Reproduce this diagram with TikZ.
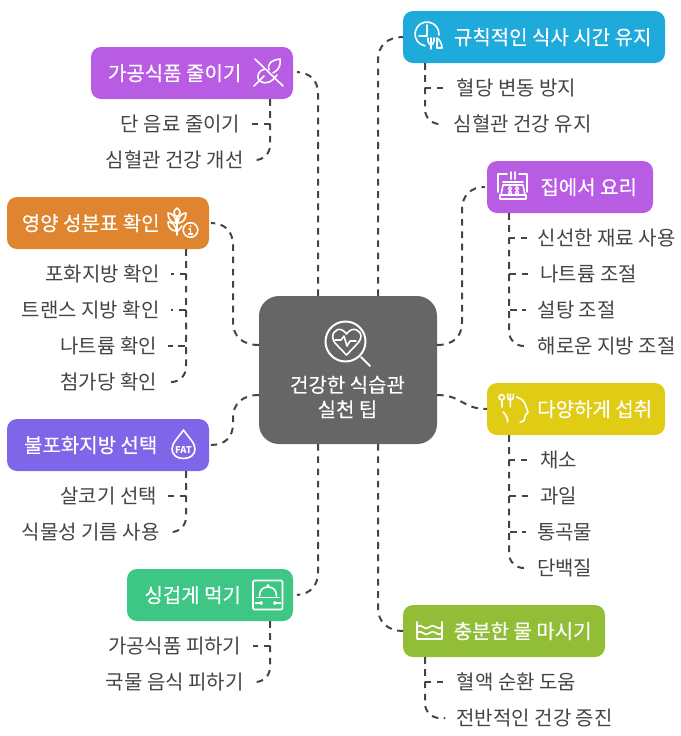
\documentclass[tikz,border=0pt]{standalone}
\usepackage{fontspec}
\setmainfont{Noto Sans CJK KR}
\newfontfamily\medfont[FakeBold=0.25]{Noto Sans CJK KR}
\definecolor{cBlue}{HTML}{1FAADC}
\definecolor{cPurple}{HTML}{B85CE3}
\definecolor{cYellow}{HTML}{E0CC14}
\definecolor{cLime}{HTML}{92BE37}
\definecolor{cOrange}{HTML}{DF842F}
\definecolor{cViolet}{HTML}{7F66E8}
\definecolor{cGreen}{HTML}{3EC684}
\definecolor{cCore}{HTML}{666666}
\definecolor{cInk}{HTML}{444444}
\tikzset{
  boxnode/.style={rectangle,rounded corners=7.5pt,inner sep=0pt,draw=none},
  corenode/.style={rectangle,rounded corners=15pt,inner sep=0pt,draw=none,fill=cCore,minimum width=133.5pt,minimum height=111pt},
  boxtext/.style={text=white,inner ysep=0pt,inner xsep=0pt,text height=13.2pt,text depth=1.8pt,xshift=.5pt,yshift=-.75pt,font=\medfont\fontsize{15}{18}\selectfont},
  leaf/.style={text=cInk,inner ysep=0pt,inner xsep=8.25pt,text height=13.2pt,text depth=1.8pt,xshift=.5pt,yshift=-.75pt,font=\fontsize{15}{18}\selectfont},
  link/.style={draw=cInk,line width=1.5pt,dash pattern=on 5pt off 4.2pt},
  softer/.style={link,rounded corners=11pt},
  ic/.style={draw=white,line width=1.2pt,line cap=round,line join=round,fill=none}
}
\begin{document}
\begin{tikzpicture}[x=0.75pt,y=-0.75pt]
\useasboundingbox (0,0) rectangle (681,736);
% boxes
\node[corenode] (core) at (348,370) {};
\node[boxnode,fill=cBlue,minimum width=196.5pt,minimum height=39pt] (b1) at (534,37) {};
\node[boxnode,fill=cPurple,minimum width=124.5pt,minimum height=39pt] (b2) at (570,187) {};
\node[boxnode,fill=cYellow,minimum width=133.5pt,minimum height=39pt] (b3) at (576,409) {};
\node[boxnode,fill=cLime,minimum width=151.5pt,minimum height=39pt] (b4) at (504,631) {};
\node[boxnode,fill=cPurple,minimum width=151.5pt,minimum height=39pt] (b5) at (192,73) {};
\node[boxnode,fill=cOrange,minimum width=151.5pt,minimum height=39pt] (b6) at (108,223) {};
\node[boxnode,fill=cViolet,minimum width=151.5pt,minimum height=39pt] (b7) at (108,445) {};
\node[boxnode,fill=cGreen,minimum width=124.5pt,minimum height=39pt] (b8) at (210,595) {};
% box labels
\node[text=white,align=center,inner sep=0pt,font=\medfont\fontsize{15}{18.4}\selectfont] (corelabel) at (347.5,397) {건강한 식습관\\실천 팁};
\node[boxtext] (t1) at (552,36) {규칙적인 식사 시간 유지};
\node[boxtext] (t2) at (588,186) {집에서 요리};
\node[boxtext] (t3) at (594,408) {다양하게 섭취};
\node[boxtext] (t4) at (522,630) {충분한 물 마시기};
\node[boxtext] (t5) at (174,72) {가공식품 줄이기};
\node[boxtext] (t6) at (90,222) {영양 성분표 확인};
\node[boxtext] (t7) at (90,444) {불포화지방 선택};
\node[boxtext] (t8) at (192,594) {싱겁게 먹기};
% leaves
\node[leaf] (l11) at (516,87) {혈당 변동 방지};
\node[leaf] (l12) at (522,123) {심혈관 건강 유지};
\node[leaf] (l21) at (606,237) {신선한 재료 사용};
\node[leaf] (l22) at (588,273) {나트륨 조절};
\node[leaf] (l23) at (576,309) {설탕 조절};
\node[leaf] (l24) at (606,345) {해로운 지방 조절};
\node[leaf] (l31) at (558,459) {채소};
\node[leaf] (l32) at (558,495) {과일};
\node[leaf] (l33) at (564,531) {통곡물};
\node[leaf] (l34) at (564,567) {단백질};
\node[leaf] (l41) at (516,681) {혈액 순환 도움};
\node[leaf] (l42) at (534,717) {전반적인 건강 증진};
\node[leaf] (l51) at (180,123) {단 음료 줄이기};
\node[leaf] (l52) at (174,159) {심혈관 건강 개선};
\node[leaf] (l61) at (102,273) {포화지방 확인};
\node[leaf] (l62) at (90,309) {트랜스 지방 확인};
\node[leaf] (l63) at (108,345) {나트륨 확인};
\node[leaf] (l64) at (108,381) {첨가당 확인};
\node[leaf] (l71) at (108,495) {살코기 선택};
\node[leaf] (l72) at (90,531) {식물성 기름 사용};
\node[leaf] (l81) at (174,645) {가공식품 피하기};
\node[leaf] (l82) at (174,681) {국물 음식 피하기};
% trunks and core anchors
\coordinate (tr1) at (425,63);
\coordinate (tr2) at (509,213);
\coordinate (tr3) at (509,435);
\coordinate (tr4) at (425,657);
\coordinate (tr5) at (270,99);
\coordinate (tr6) at (186,249);
\coordinate (tr7) at (186,471);
\coordinate (tr8) at (270,621);
\coordinate (cN1) at (378,296);
\coordinate (cN2) at (318,296);
\coordinate (cS1) at (378,444);
\coordinate (cS2) at (318,444);
\coordinate (cE1) at (437,345);
\coordinate (cE2) at (437,395);
\coordinate (cW1) at (259,345);
\coordinate (cW2) at (259,395);
\coordinate (e1) at (403,37);
\coordinate (e5) at (297,72);
\coordinate (e6) at (211,223);
\coordinate (e7) at (211,445);
\coordinate (e8) at (297,595);
\coordinate (e4) at (403,631);
\coordinate (e2) at (485,187);
\coordinate (e3) at (487,409);
% core connectors
\draw[link] (cN1) -- (378,60) .. controls (378,45) and (388,37) .. (e1);
\draw[link] (cN2) -- (318,94) .. controls (318,80) and (310,73) .. (e5);
\draw[link] (cS1) -- (378,608) .. controls (378,622) and (388,631) .. (e4);
\draw[link] (cS2) -- (318,572) .. controls (318,586) and (310,594) .. (e8);
\draw[link] (cE1) .. controls (454,345) and (462,336) .. (462,322) -- (462,210) .. controls (462,196) and (470,187) .. (e2);
\draw[link] (cE2) .. controls (462,395) and (462,409) .. (e3);
\draw[link] (cW1) .. controls (242,345) and (233,336) .. (233,322) -- (233,245) .. controls (233,232) and (225,223) .. (e6);
\draw[link] (cW2) .. controls (242,395) and (233,404) .. (233,418) -- (233,424) .. controls (233,437) and (225,445) .. (e7);
% branch connectors
\foreach \tr/\lf in {tr1/l11,tr2/l21,tr2/l22,tr2/l23,tr3/l31,tr3/l32,tr3/l33,tr4/l41}{
  \draw[link] (\tr) -- (\tr |- \lf.west) -- (\lf.west);
}
\foreach \tr/\lf in {tr5/l51,tr6/l61,tr6/l62,tr6/l63,tr7/l71,tr8/l81}{
  \draw[link] (\tr) -- (\tr |- \lf.east) -- (\lf.east);
}
\foreach \tr/\lf in {tr1/l12,tr2/l24,tr3/l34,tr4/l42}{
  \draw[softer] (\tr) |- (\lf.west);
}
\foreach \tr/\lf in {tr5/l52,tr6/l64,tr7/l72,tr8/l82}{
  \draw[softer] (\tr) |- (\lf.east);
}
% icon: magnifier with heart
\draw[ic,line width=1.5pt] (345.5,341.5) circle (20);
\draw[ic,line width=1.5pt] (361,357) -- (370,366);
\draw[ic] (346.5,355) -- (335,343) .. controls (329,335) and (336,327) .. (342,330) .. controls (344,331) and (346,333) .. (346.5,334) .. controls (347,333) and (349,331) .. (351,330) .. controls (358,327) and (365,335) .. (358,343) -- cycle;
\draw[ic] (335,340) -- (341,340) -- (344,336) -- (347,346) -- (350,341) -- (356,341);
% icon: clock with cutlery
\draw[ic] (427,34) ++(100:12) arc (100:365:12);
\draw[ic] (427,25) -- (427,36) -- (419,36);
\draw[ic] (428,38) -- (428,41) .. controls (428,44) and (431,45) .. (431,45) .. controls (431,45) and (434,44) .. (434,41) -- (434,38);
\draw[ic] (431,38) -- (431,49);
\draw[ic] (437,48) -- (437,38) .. controls (440,40) and (442,44) .. (442,48) -- (437,48);
% icon: cooking pan
\draw[ic] (507,174) -- (498,174) -- (498,192) (519,174) -- (527,174) -- (527,192);
\draw[ic] (511,172) -- (511,179) (515,172) -- (515,179);
\draw[ic] (503,182) -- (523,182);
\draw[ic] (503,185) -- (523,185) -- (525,195) -- (501,195) -- cycle;
\draw[ic] (500,195) -- (526,195) -- (526,199) -- (500,199) -- cycle;
\draw[ic,line width=0.9pt] (510,188.5) circle (1.8) (517,188.5) circle (1.8) (510,192.5) circle (1.8) (517,192.5) circle (1.8);
% icon: head with cutlery
\draw[ic] (501.7,397.3) circle (2.7);
\draw[ic] (501.7,400) -- (501.7,407);
\draw[ic] (507.7,394) -- (507.7,397) .. controls (507.7,399.5) and (509,400) .. (510.4,400) .. controls (512,400) and (513.3,399.5) .. (513.3,397) -- (513.3,394) (510.4,394) -- (510.4,407);
\draw[ic] (516.7,397) .. controls (522,399) and (525,402) .. (525.7,405.7) -- (528,412) -- (525,416) -- (524,420.7) -- (520,422.3);
\draw[ic] (503.3,412) .. controls (506,415) and (507.7,418) .. (507.7,422);
% icon: water level
\draw[ic] (417,622) -- (417,639) -- (442,639) -- (442,622);
\draw[ic] (417,627) .. controls (419,625) and (421,625) .. (423,627) .. controls (425,629) and (427,629) .. (429.5,627) .. controls (431,625) and (434,625) .. (436,627) .. controls (438,629) and (440,629) .. (442,627);
\draw[ic] (417,633) .. controls (419,631) and (421,631) .. (423,633) .. controls (425,635) and (427,635) .. (429.5,633) .. controls (431,631) and (434,631) .. (436,633) .. controls (438,635) and (440,635) .. (442,633);
% icon: crossed leaf
\draw[ic] (255,59) -- (283,86);
\draw[ic] (269,70) .. controls (267,63) and (272,60) .. (280,59) .. controls (281,65) and (279,70) .. (273,73);
\draw[ic] (259,81) .. controls (256,75) and (259,70) .. (265,69);
\draw[ic] (260,81) .. controls (266,85) and (272,82) .. (277,75);
\draw[ic] (254,86) -- (264,76);
% icon: wheat with info
\draw[ic] (177,235) -- (177,216);
\draw[ic] (177,208) .. controls (181,211) and (181,214) .. (177,217) .. controls (173,214) and (173,211) .. (177,208);
\draw[ic] (168,213) .. controls (173,213) and (176,218) .. (176,223) .. controls (171,223) and (168,219) .. (168,213);
\draw[ic] (186,213) .. controls (181,213) and (178,218) .. (178,223) .. controls (183,223) and (186,219) .. (186,213);
\draw[ic] (168,222) .. controls (173,222) and (176,226) .. (176,231) .. controls (171,231) and (168,227) .. (168,222);
\draw[ic] (178,231) -- (182,226);
\draw[ic] (190.5,230) circle (7.3);
\fill[white] (190.5,226) circle (1);
\draw[ic,line width=1pt] (189,229) -- (190.5,229) -- (190.5,234) (188.5,234) -- (192.5,234);
% icon: fat drop
\draw[ic] (183.5,430) .. controls (178,438) and (172,443) .. (172,449) .. controls (172,455) and (177,458.5) .. (183.5,458.5) .. controls (190,458.5) and (195,455) .. (195,449) .. controls (195,443) and (189,438) .. (183.5,430) -- cycle;
\node[text=white,inner sep=0pt,font=\bfseries\fontsize{7}{8}\selectfont] (fat) at (183.5,450) {FAT};
% icon: cloche
\draw[ic,rounded corners=1pt] (253,580.5) rectangle (282.5,609.5);
\draw[ic,line width=1.4pt] (257,597.5) -- (279,597.5);
\draw[ic] (259.5,596) .. controls (259.5,590) and (263,587) .. (268,587) .. controls (273,587) and (276.5,590) .. (276.5,596);
\fill[white] (268,585.5) circle (1.6);
\fill[white] (261,600.8) -- (263.2,603) -- (261,605.2) -- (258.8,603) -- cycle;
\fill[white] (275,600.8) -- (277.2,603) -- (275,605.2) -- (272.8,603) -- cycle;
\draw[ic,line width=.8pt] (255.5,603) -- (261,603) (275,603) -- (280.5,603);
\end{tikzpicture}
\end{document}
